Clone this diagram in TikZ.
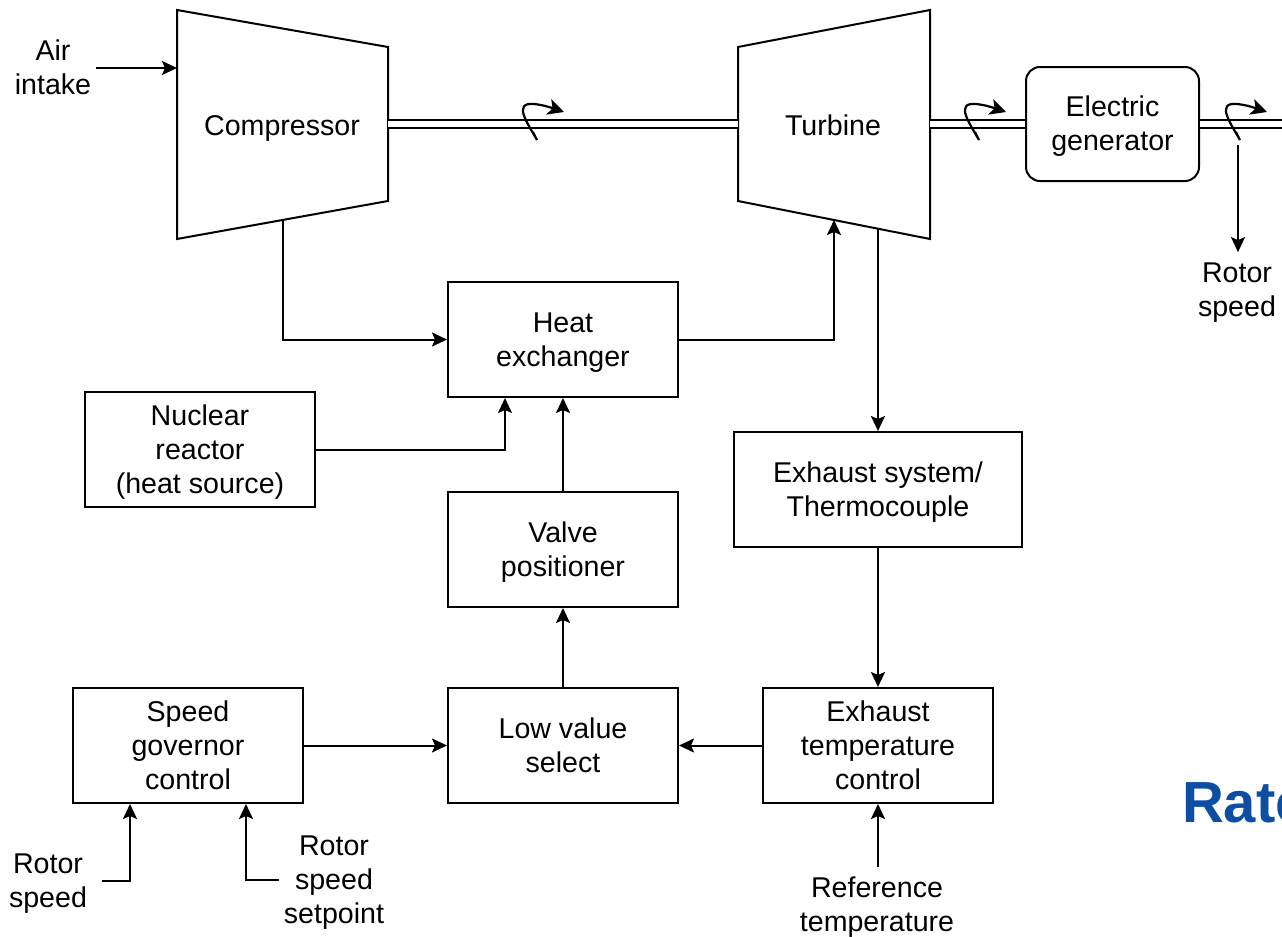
\documentclass[tikz,border=0pt]{standalone}
\usepackage{fontspec}
\setmainfont{Liberation Sans}
\usepackage{tikz}
\usetikzlibrary{arrows.meta,positioning,calc}
\definecolor{rateblue}{HTML}{0B4EA2}

\begin{document}
\begin{tikzpicture}[x=0.5pt,y=-0.5pt,font=\fontsize{14.3}{17}\selectfont,line width=1pt,
  one/.style={text height=12.9pt,text depth=3pt},
  two/.style={text height=29.9pt,text depth=3pt},
  three/.style={text height=46.9pt,text depth=3pt},
  arr/.style={-{Stealth[length=7.5pt,width=7pt,inset=1.5pt]},line width=1pt},
  blk/.style={draw,line width=1pt,minimum width=115pt,minimum height=57.5pt,align=center,inner sep=2pt},
  shaft/.style={double,double distance=2.85pt,line width=1pt},
  txt/.style={align=center,inner sep=2pt},
  spin/.pic={\draw[line width=1.1pt,-{Stealth[length=8pt,width=8pt,inset=2pt]}] (13,8) -- (17,16) .. controls (8,0) and (-8,-22) .. (14,-20) .. controls (24,-19) and (32,-16) .. (44,-12);}]
\useasboundingbox (0,0) rectangle (1282,937);
\clip (0,0) rectangle (1282,937);
% compressor and turbine
\draw (177,10) coordinate (C1) -- (388,47) coordinate (C2) -- (388,201) coordinate (C3) -- (177,239) coordinate (C4) -- cycle;
\node[one] (C) at (282,126) {Compressor};
\draw (738,47) coordinate (T1) -- (930,10) coordinate (T2) -- (930,239) coordinate (T3) -- (738,201) coordinate (T4) -- cycle;
\node[one] (T) at (833,126) {Turbine};
\node[blk,two,rounded corners=7pt,minimum width=86.5pt,minimum height=57pt] (G) at (1112.5,124) {Electric\\generator};
\coordinate (TX) at ($(T4)!0.729!(T3)$);
\coordinate (RS0) at (1238,145);
\coordinate (edge) at (1300,124);
% blocks
\node[blk,two] (HX) at (563,339.5) {Heat\\exchanger};
\node[blk,three] (NR) at (200,449.5) {Nuclear\\reactor\\(heat source)};
\node[blk,two] (VP) at (563,549.5) {Valve\\positioner};
\node[blk,two,minimum width=144pt] (EX) at (878,489.5) {Exhaust system/\\Thermocouple};
\node[blk,two] (LV) at (563,745.5) {Low value\\select};
\node[blk,three] (SG) at (188,745.5) {Speed\\governor\\control};
\node[blk,three] (ET) at (878,745.5) {Exhaust\\temperature\\control};
% labels
\node[txt,two] (AI) at (53,68) {Air\\intake};
\node[txt,two] (RS1) at (48,881) {Rotor\\speed};
\node[txt,three] (RSP) at (334,880) {Rotor\\speed\\setpoint};
\node[txt,two] (RT) at (877,905) {Reference\\temperature};
\node[txt,two] (RS2) at (1237,290) {Rotor\\speed};
\node[anchor=base west,inner sep=0pt,text=rateblue,font=\fontsize{29}{34}\selectfont\bfseries] (RA) at (1181,822) {Rate};
% shafts
\draw[shaft] ($(C2)!0.5!(C3)$) -- ($(T1)!0.5!(T4)$);
\draw[shaft] (G.west -| T2) -- (G.west);
\draw[shaft] (G.east) -- (edge);
\pic at (520,124) {spin};
\pic at (962,124) {spin};
\pic at (1223,124) {spin};
% flows
\draw[arr] (AI.east) -- (AI.east -| C1);
\draw[arr] ($(C3)!0.5!(C4)$) |- (HX.west);
\draw[arr] (HX.east) -| ($(T3)!0.5!(T4)$);
\draw[arr] (TX) -- (TX |- EX.north);
\draw[arr] (NR.east) -| ($(HX.south west)!0.25!(HX.south east)$);
\draw[arr] (VP.north) -- (HX.south);
\draw[arr] (LV.north) -- (VP.south);
\draw[arr] (EX.south) -- (ET.north);
\draw[arr] (SG.east) -- (LV.west);
\draw[arr] (ET.west) -- (LV.east);
\draw[arr] ([xshift=5pt]RS1.east) -| ($(SG.south west)!0.25!(SG.south east)$);
\draw[arr] (RSP.west) -| ($(SG.south west)!0.75!(SG.south east)$);
\draw[arr] (ET.south |- RT.north) -- (ET.south);
\draw[arr] (RS0) -- (RS0 |- RS2.north);
\end{tikzpicture}
\end{document}
